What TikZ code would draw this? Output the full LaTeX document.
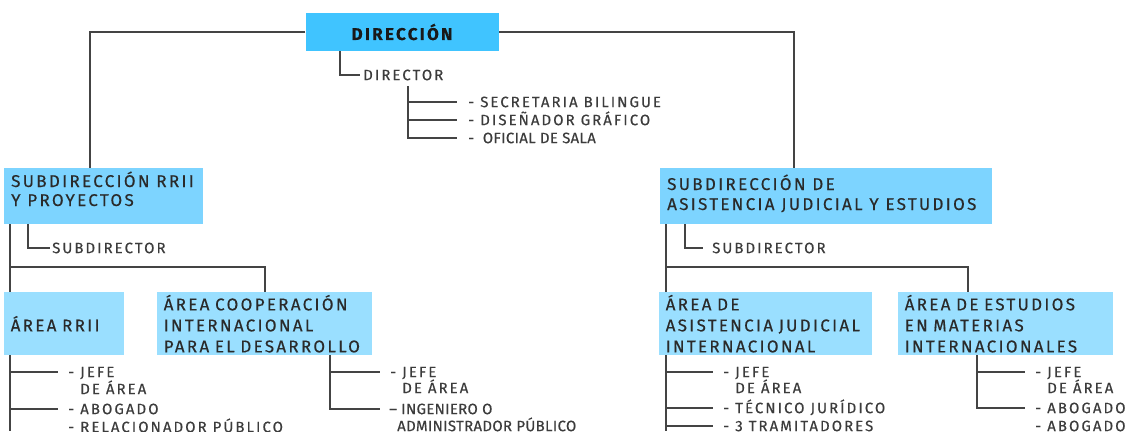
\documentclass[tikz,border=0pt]{standalone}
\usepackage{fontspec}
\setmainfont{Fira Sans}[LetterSpace=13.5,FakeBold=0.4]
\newfontfamily\condf{Fira Sans}[LetterSpace=2,FakeBold=0.4]
\usetikzlibrary{backgrounds}
\definecolor{topc}{HTML}{40C4FF}
\definecolor{subc}{HTML}{7DD4FF}
\definecolor{areac}{HTML}{9ADFFF}
\definecolor{linec}{HTML}{444444}
\definecolor{boxtext}{HTML}{2A2A2A}
\definecolor{itemc}{HTML}{3C3C3C}
\begin{document}
\begin{tikzpicture}[x=1pt,y=-1pt,
  ln/.style={draw=linec, line width=1.4pt},
  topbox/.style={fill=topc, inner sep=0pt, minimum width=193pt, minimum height=38pt,
    font=\fontsize{17}{18}\selectfont\bfseries, text=black!90},
  subbox/.style={fill=subc, anchor=north west, inner sep=0pt, minimum height=56pt},
  subtext/.style={anchor=base west, inner sep=0pt,
    font=\fontsize{17}{19.5}\selectfont, text=boxtext},
  areabox/.style={fill=areac, anchor=north west, inner xsep=6.5pt, inner ysep=0pt,
    minimum height=63pt, align=left,
    font=\fontsize{17}{21}\selectfont, text=boxtext},
  item/.style={anchor=west, inner sep=0pt, text height=10.3pt, text depth=0pt,
    font=\fontsize{15}{16}\selectfont, text=itemc},
  citem/.style={item, font=\fontsize{15}{16}\condf}
]
\useasboundingbox (0,0) rectangle (1127,431);

% ---------- boxes ----------
\node[topbox] (dir) at (402,32) {DIRECCIÓN};
\node[subbox, minimum width=199pt] (srrii) at (4,168) {};
\node[subtext] (srriia) at (11,187) {SUBDIRECCIÓN RRII};
\node[subtext] (srriib) at (11,206) {Y PROYECTOS};
\node[subbox, minimum width=332pt] (sasj) at (660,168) {};
\node[subtext] (sasja) at (667,190) {SUBDIRECCIÓN DE};
\node[subtext] (sasjb) at (667,210) {ASISTENCIA JUDICIAL Y ESTUDIOS};
\node[areabox, minimum width=120pt, text width=107pt] (arrii) at (4,292) {ÁREA RRII};
\node[areabox, minimum width=215pt, text width=202pt] (acoop) at (157,292) {ÁREA COOPERACIÓN\\INTERNACIONAL\\PARA EL DESARROLLO};
\node[areabox, minimum width=213pt, text width=200pt] (aasis) at (659,292) {ÁREA DE\\ASISTENCIA JUDICIAL\\INTERNACIONAL};
\node[areabox, minimum width=215pt, text width=202pt] (aestu) at (898,292) {ÁREA DE ESTUDIOS\\EN MATERIAS\\INTERNACIONALES};

% ---------- texts ----------
\node[item] (director) at (363,75) {DIRECTOR};
\node[item] (sec) at (468,102) {- SECRETARIA BILINGUE};
\node[item] (dis) at (468,120) {- DISEÑADOR GRÁFICO};
\node[citem] (ofi) at (468,138) {-\ \ OFICIAL DE SALA};

\node[item] (rsub) at (52,248) {SUBDIRECTOR};
\node[item] (rj1) at (68,372) {- JEFE};
\node[item] (rj2) at (68,389) {\phantom{- }DE ÁREA};
\node[item] (rab) at (68,409) {- ABOGADO};
\node[item] (rrel) at (68,427) {- RELACIONADOR PÚBLICO};

\node[item] (cj1) at (390,372) {- JEFE};
\node[item] (cj2) at (390,388) {\phantom{- }DE ÁREA};
\node[citem] (cing) at (389,409) {– INGENIERO O};
\node[citem] (cadm) at (397,426) {ADMINISTRADOR PÚBLICO};

\node[item] (ssub) at (712,248) {SUBDIRECTOR};
\node[item] (aj1) at (723,372) {- JEFE};
\node[item] (aj2) at (723,388) {\phantom{- }DE ÁREA};
\node[item] (atec) at (723,408) {- TÉCNICO JURÍDICO};
\node[item] (atra) at (723,426) {- 3 TRAMITADORES};

\node[item] (ej1) at (1035,372) {- JEFE};
\node[item] (ej2) at (1035,388) {\phantom{- }DE ÁREA};
\node[item] (eab1) at (1035,408) {- ABOGADO};
\node[item] (eab2) at (1035,426) {- ABOGADO};

% ---------- free ends ----------
\coordinate (dv) at (408,86);
\coordinate (rbot) at (10,431);
\coordinate (rj) at (10,267);
\coordinate (sbot) at (666,431);
\coordinate (sj) at (666,267);

% ---------- connectors ----------
\begin{scope}[on background layer]
\draw[ln] (dir.west) -| ([xshift=86pt]srrii.north west);
\draw[ln] (dir.east) -| ([xshift=134pt]sasj.north west);
\draw[ln] ([xshift=34.5pt]dir.south west) |- ([xshift=-3pt]director.west);
\draw[ln] (dv) |- ([xshift=-11pt]ofi.west);
\draw[ln] (dv |- sec.west) -- ([xshift=-11pt]sec.west);
\draw[ln] (dv |- dis.west) -- ([xshift=-11pt]dis.west);

\draw[ln] ([xshift=6pt]srrii.south west) -- (rbot);
\draw[ln] ([xshift=24pt]srrii.south west) |- ([xshift=-2pt]rsub.west);
\draw[ln] (rj) -| ([xshift=108pt]acoop.north west);
\draw[ln] (rbot |- rj1.west) -- ([xshift=-10pt]rj1.west);
\draw[ln] (rbot |- rab.west) -- ([xshift=-10pt]rab.west);

\draw[ln] ([xshift=173pt]acoop.south west) |- ([xshift=-9pt]cing.west);
\draw[ln] ([xshift=173pt]acoop.south west |- cj1.west) -- ([xshift=-10pt]cj1.west);

\draw[ln] ([xshift=6pt]sasj.south west) -- (sbot);
\draw[ln] ([xshift=25pt]sasj.south west) |- ([xshift=-9pt]ssub.west);
\draw[ln] (sj) -| ([xshift=70pt]aestu.north west);
\draw[ln] (sbot |- aj1.west) -- ([xshift=-10pt]aj1.west);
\draw[ln] (sbot |- atec.west) -- ([xshift=-10pt]atec.west);
\draw[ln] (sbot |- atra.west) -- ([xshift=-10pt]atra.west);

\draw[ln] ([xshift=79pt]aestu.south west) |- ([xshift=-10pt]eab1.west);
\draw[ln] ([xshift=79pt]aestu.south west |- ej1.west) -- ([xshift=-10pt]ej1.west);
\end{scope}
\end{tikzpicture}
\end{document}
